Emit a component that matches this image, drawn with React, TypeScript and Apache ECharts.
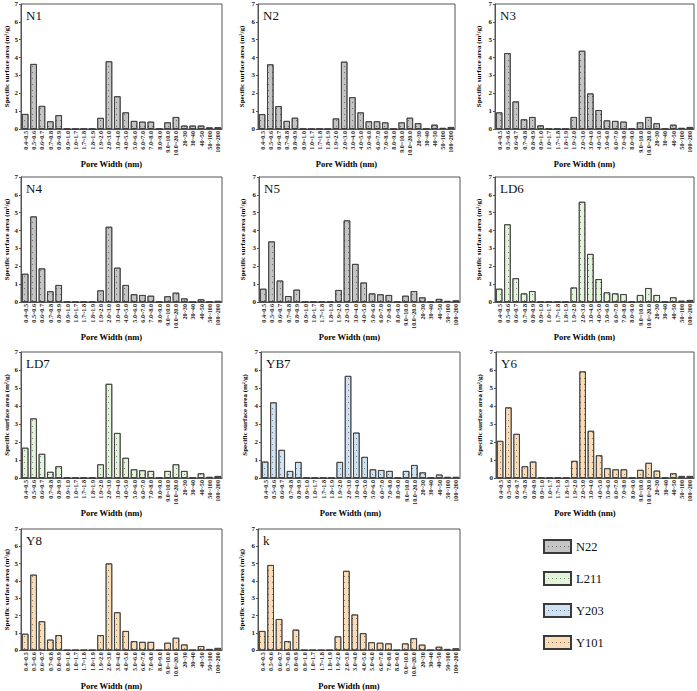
import React, { useEffect, useRef } from "react";
import * as echarts from "echarts";

const categories = [
  "0.4~0.5", "0.5~0.6", "0.6~0.7", "0.7~0.8", "0.8~0.9", "0.9~1.0",
  "1.0~1.7", "1.7~1.8", "1.8~1.9", "1.9~2.0", "2.0~3.0", "3.0~4.0",
  "4.0~5.0", "5.0~6.0", "6.0~7.0", "7.0~8.0", "8.0~9.0", "9.0~10.0",
  "10.0~20.0", "20~30", "30~40", "40~50", "50~100", "100~200",
];

const N1 = [0.84, 3.64, 1.29, 0.43, 0.77, 0, 0, 0, 0, 0.62, 3.79, 1.83, 0.93, 0.45, 0.41, 0.41, 0, 0.37, 0.67, 0.19, 0.19, 0.19, 0.09, 0.1];
const N2 = [0.83, 3.62, 1.28, 0.45, 0.63, 0, 0, 0, 0, 0.59, 3.77, 1.78, 0.93, 0.43, 0.43, 0.37, 0, 0.37, 0.63, 0.32, 0, 0.24, 0.06, 0.11];
const N3 = [0.93, 4.25, 1.54, 0.54, 0.67, 0.2, 0, 0, 0, 0.67, 4.38, 1.99, 1.06, 0.48, 0.45, 0.41, 0, 0.37, 0.67, 0.32, 0, 0.24, 0.06, 0.11];
const N4 = [1.58, 4.79, 1.88, 0.6, 0.95, 0, 0, 0, 0, 0.65, 4.21, 1.92, 0.95, 0.43, 0.39, 0.35, 0, 0.32, 0.52, 0.2, 0, 0.15, 0, 0.06];
const N5 = [0.74, 3.39, 1.2, 0.33, 0.69, 0, 0, 0, 0, 0.67, 4.57, 2.13, 1.09, 0.48, 0.43, 0.39, 0, 0.35, 0.61, 0.26, 0, 0.17, 0.06, 0.09];
const LD6 = [0.74, 4.35, 1.33, 0.48, 0.61, 0, 0, 0, 0, 0.81, 5.61, 2.69, 1.28, 0.54, 0.48, 0.44, 0, 0.39, 0.78, 0.39, 0, 0.26, 0.07, 0.11];
const LD7 = [1.68, 3.31, 1.34, 0.34, 0.65, 0, 0, 0, 0, 0.76, 5.23, 2.5, 1.12, 0.48, 0.43, 0.39, 0, 0.39, 0.76, 0.39, 0, 0.26, 0.06, 0.11];
const YB7 = [0.91, 4.2, 1.56, 0.39, 0.89, 0, 0, 0, 0, 0.89, 5.67, 2.52, 1.17, 0.48, 0.44, 0.39, 0, 0.39, 0.72, 0.31, 0, 0.19, 0.06, 0.06];
const Y6 = [2.06, 3.92, 2.45, 0.65, 0.91, 0, 0, 0, 0, 0.95, 5.92, 2.62, 1.26, 0.54, 0.48, 0.48, 0, 0.45, 0.84, 0.41, 0, 0.26, 0.11, 0.11];
const Y8 = [0.95, 4.36, 1.67, 0.61, 0.87, 0, 0, 0, 0, 0.87, 5.01, 2.19, 1.11, 0.52, 0.48, 0.48, 0, 0.43, 0.72, 0.33, 0, 0.24, 0.07, 0.13];
const K = [1.11, 4.92, 1.8, 0.52, 1.19, 0, 0, 0, 0, 0.8, 4.58, 2.06, 0.98, 0.46, 0.43, 0.39, 0, 0.39, 0.69, 0.32, 0, 0.2, 0.07, 0.11];

const yTicks = [0, 1, 2, 3, 4, 5, 6, 7];
const groupNames = ["N22", "L211", "Y203", "Y101"];
const groupColors: Record<string, string> = {
  N22: "#c4c4c4",
  L211: "#e2f5d8",
  Y203: "#cde2f3",
  Y101: "#fbdcb5",
};

const panels = [
  { label: "N1", group: "N22", values: N1 },
  { label: "N2", group: "N22", values: N2 },
  { label: "N3", group: "N22", values: N3 },
  { label: "N4", group: "N22", values: N4 },
  { label: "N5", group: "N22", values: N5 },
  { label: "LD6", group: "L211", values: LD6 },
  { label: "LD7", group: "L211", values: LD7 },
  { label: "YB7", group: "Y203", values: YB7 },
  { label: "Y6", group: "Y101", values: Y6 },
  { label: "Y8", group: "Y101", values: Y8 },
  { label: "k", group: "Y101", values: K },
];

// grid boxes [left, right, top, bottom] in page pixels
const boxes = [
  [21, 222, 4, 129],
  [258, 455, 4, 129],
  [495, 694, 4, 129],
  [21, 222, 177, 302],
  [259, 460, 177, 302],
  [495, 694, 177, 302],
  [21, 222, 352, 478],
  [261, 460, 352, 478],
  [496, 694, 352, 478],
  [21, 222, 529, 655],
  [258, 460, 529, 655],
];

const W = 697;
const H = 691;
const FONT = "Liberation Serif";

export default function App() {
  const ref = useRef<HTMLDivElement>(null);
  useEffect(() => {
    if (!ref.current) return;
    const chart = echarts.init(ref.current, undefined, { renderer: "svg" });
    const grid: any[] = [];
    const xAxis: any[] = [];
    const yAxis: any[] = [];
    const series: any[] = [];
    const title: any[] = [];
    panels.forEach((p, i) => {
      const [l, r, t, b] = boxes[i];
      grid.push({
        left: l,
        top: t,
        width: r - l,
        height: b - t,
        show: true,
        borderColor: "#555",
        borderWidth: 1,
        backgroundColor: "transparent",
      });
      xAxis.push({
        type: "category",
        gridIndex: i,
        data: categories,
        name: "Pore Width (nm)",
        nameLocation: "middle",
        nameGap: 26,
        nameTextStyle: { fontFamily: FONT, fontWeight: "bold", fontSize: 8.5, color: "#000", padding: [0, 20, 0, 0] },
        axisLine: { lineStyle: { color: "#555", width: 1 } },
        axisTick: { show: false },
        axisLabel: {
          interval: 0,
          rotate: 90,
          fontSize: 6.2,
          fontWeight: "bold",
          fontFamily: FONT,
          color: "#222",
          margin: 2,
        },
      });
      yAxis.push({
        type: "value",
        gridIndex: i,
        min: 0,
        max: yTicks[yTicks.length - 1],
        interval: 1,
        name: "Specific surface area (m\u00B2/g)",
        nameLocation: "middle",
        nameGap: i % 3 === 0 ? 11 : 13,
        nameTextStyle: { fontFamily: FONT, fontWeight: "bold", fontSize: 7, color: "#000" },
        axisLine: { show: true, lineStyle: { color: "#555", width: 1 } },
        axisTick: { show: true, length: 2, lineStyle: { color: "#555" } },
        splitLine: { show: false },
        axisLabel: { fontSize: 7, fontWeight: "bold", fontFamily: FONT, color: "#222", margin: 3 },
      });
      series.push({
        type: "bar",
        name: p.group,
        xAxisIndex: i,
        yAxisIndex: i,
        data: p.values,
        barCategoryGap: "22%",
        itemStyle: {
          color: groupColors[p.group],
          borderColor: "#3a3a3a",
          borderWidth: 0.8,
          decal: {
            symbol: "rect",
            symbolSize: 1,
            color: "rgba(0,0,0,0.45)",
            dashArrayX: [1, 3],
            dashArrayY: [1, 5],
          },
        },
      });
      title.push({
        text: p.label,
        left: l + 5,
        top: t + 5,
        padding: 0,
        textStyle: { fontFamily: FONT, fontSize: 13, fontWeight: "normal", color: "#111" },
      });
    });
    chart.setOption({
      animation: false,
      backgroundColor: "#fff",
      title,
      grid,
      xAxis,
      yAxis,
      series,
      legend: {
        data: groupNames,
        orient: "vertical",
        left: 543,
        top: 539,
        padding: 0,
        itemWidth: 27,
        itemHeight: 13,
        itemGap: 17,
        selectedMode: false,
        icon: "rect",
        textStyle: { fontFamily: FONT, fontSize: 12.5, color: "#111" },
      },
    });
    return () => chart.dispose();
  }, []);
  return (
    <div
      ref={ref}
      style={{ position: "absolute", left: 0, top: 0, width: W, height: H }}
    />
  );
}
